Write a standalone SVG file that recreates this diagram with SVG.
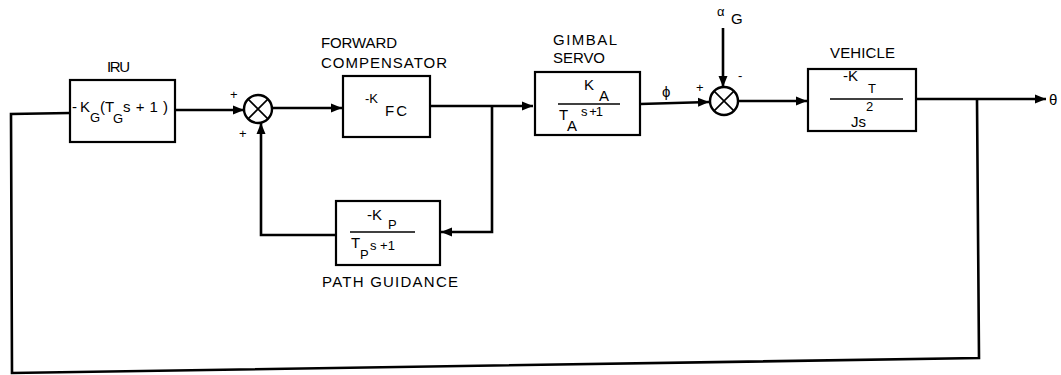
<svg xmlns="http://www.w3.org/2000/svg" width="1061" height="375" viewBox="0 0 1061 375">
<defs>
<marker id="ah" markerWidth="12" markerHeight="10" refX="11" refY="5" orient="auto" markerUnits="userSpaceOnUse">
<path d="M0,0.5 L11,5 L0,9.5 Z" fill="#000"/>
</marker>
<style>
.box{fill:#fff;stroke:#000;stroke-width:2.2}
.ln{fill:none;stroke:#000;stroke-width:2.6}
.fr{stroke:#000;stroke-width:1.6}
.sum{fill:#fff;stroke:#000;stroke-width:2.4}
.lbl{font-family:"Liberation Sans",Arial,sans-serif;font-size:15px;fill:#000}
.m{font-family:"Liberation Sans",Arial,sans-serif;font-size:15px;fill:#000}
.s{font-family:"Liberation Sans",Arial,sans-serif;font-size:13px;fill:#000}
</style>
</defs>
<rect width="1061" height="375" fill="#fff"/>
<g id="connectors">
<path class="ln" d="M175,110 L244,110" marker-end="url(#ah)"/>
<path class="ln" d="M272,108 L342,108" marker-end="url(#ah)"/>
<path class="ln" d="M430,106 L533,106" marker-end="url(#ah)"/>
<path class="ln" d="M492,106 L492,232 L441,232" marker-end="url(#ah)"/>
<path class="ln" d="M336,235 L261,235 L261,123" marker-end="url(#ah)"/>
<path class="ln" d="M640,104 L709,102" marker-end="url(#ah)"/>
<path class="ln" d="M723,28 L723,87" marker-end="url(#ah)"/>
<path class="ln" d="M738,101 L807,101" marker-end="url(#ah)"/>
<path class="ln" d="M916,99 L1046,99" marker-end="url(#ah)"/>
<path class="ln" d="M977,99 L979,358 L12,373 L11,114 L70,113"/>
</g>
<g id="iru">
<rect class="box" x="70" y="80" width="105" height="62"/>
<text class="lbl" x="107" y="72" textLength="23">IRU</text>
<text class="m" x="72" y="112" textLength="18">-K</text>
<text class="s" x="90" y="122">G</text>
<text class="m" x="100" y="112">(T</text>
<text class="s" x="113" y="123">G</text>
<text class="m" x="123" y="112" textLength="45">s+1)</text>
</g>
<g id="sum1">
<circle class="sum" cx="258" cy="109" r="14"/>
<path class="fr" d="M248.1,99.1 L267.9,118.9 M267.9,99.1 L248.1,118.9"/>
<text class="s" x="230" y="99">+</text>
<text class="s" x="239" y="138">+</text>
</g>
<g id="forward-compensator">
<rect class="box" x="343" y="76" width="87" height="61"/>
<text class="lbl" x="321" y="48" textLength="76">FORWARD</text>
<text class="lbl" x="321" y="68" textLength="126">COMPENSATOR</text>
<text class="s" x="365" y="103">-K</text>
<text class="lbl" x="385" y="116" textLength="22">FC</text>
</g>
<g id="path-guidance">
<rect class="box" x="336" y="201" width="104" height="64"/>
<text class="m" x="367" y="220">-K</text>
<text class="s" x="388" y="229">P</text>
<line class="fr" x1="350" y1="232" x2="415" y2="232"/>
<text class="m" x="351" y="248">T</text>
<text class="s" x="360" y="259">P</text>
<text class="s" x="370" y="250">s +1</text>
<text class="lbl" x="322" y="287" textLength="136">PATH GUIDANCE</text>
</g>
<g id="gimbal-servo">
<rect class="box" x="535" y="72" width="105" height="63"/>
<text class="lbl" x="553" y="45" textLength="64">GIMBAL</text>
<text class="lbl" x="553" y="63" textLength="52">SERVO</text>
<text class="m" x="584" y="90">K</text>
<text class="m" x="599" y="101">A</text>
<line class="fr" x1="558" y1="104" x2="620" y2="104"/>
<text class="m" x="559" y="120">T</text>
<text class="m" x="567" y="131">A</text>
<text class="s" x="581" y="116" textLength="22">s +1</text>
<text class="m" x="662" y="97">ϕ</text>
</g>
<g id="sum2">
<circle class="sum" cx="724" cy="101" r="14"/>
<path class="fr" d="M714.1,91.1 L733.9,110.9 M733.9,91.1 L714.1,110.9"/>
<text class="s" x="696" y="92">+</text>
<text class="s" x="738" y="80">-</text>
<text class="s" x="717" y="16">α</text>
<text class="m" x="731" y="24">G</text>
</g>
<g id="vehicle">
<rect class="box" x="808" y="69" width="108" height="62"/>
<text class="lbl" x="830" y="58" textLength="65">VEHICLE</text>
<text class="m" x="843" y="81">-K</text>
<text class="s" x="868" y="93">T</text>
<line class="fr" x1="830" y1="99" x2="903" y2="99"/>
<text class="m" x="851" y="127">Js</text>
<text class="s" x="866" y="111">2</text>
<text class="m" x="1049" y="105">θ</text>
</g>
</svg>
